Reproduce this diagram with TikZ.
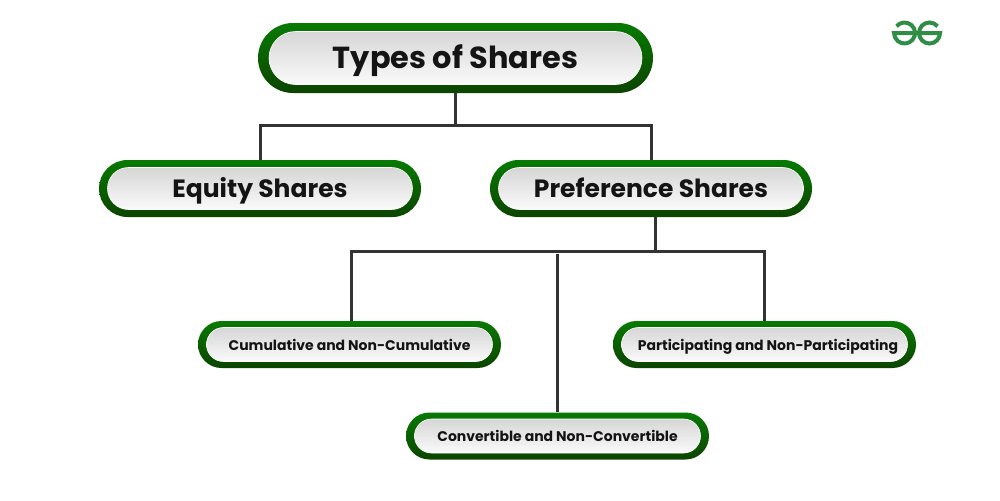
\documentclass[tikz,border=0pt]{standalone}
\usepackage{fontspec}
\setmainfont{Poppins}
\usepackage{xcolor}
\usetikzlibrary{shapes.misc}
\definecolor{ringtop}{HTML}{087A02}
\definecolor{ringbot}{HTML}{0C4400}
\definecolor{logogreen}{HTML}{2F8D46}
\definecolor{linkgray}{HTML}{333333}
\begin{document}
\begin{tikzpicture}[x=0.5pt,y=0.5pt,
  ring/.style={rounded rectangle,top color=ringtop,bottom color=ringbot,inner sep=0pt},
  pill/.style={rounded rectangle,draw=white,line width=0.3pt,top color=black!16,bottom color=black!2,inner sep=0pt,text=black!92,text depth=0pt},
  bigring/.style={ring,minimum width=197.5pt,minimum height=35pt},
  bigpill/.style={pill,minimum width=186.5pt,minimum height=26.5pt,text height=10.6pt,font=\bfseries\fontsize{15.2}{18}\selectfont},
  midring/.style={ring,minimum width=161pt,minimum height=28.5pt},
  midpill/.style={pill,minimum width=152.5pt,minimum height=21pt,text height=8.75pt,font=\bfseries\fontsize{12.5}{14}\selectfont},
  lowring/.style={ring,minimum width=151.5pt,minimum height=23.5pt},
  lowpill/.style={pill,minimum width=143pt,minimum height=17pt,text height=5.9pt,font=\bfseries\fontsize{7}{9}\selectfont},
  link/.style={draw=linkgray,line width=1.5pt},
  logoline/.style={draw=logogreen,line width=2pt}]
\useasboundingbox (0,0) rectangle (1000,500);
% junctions of the two trees
\coordinate (topbus) at (455.5,375);
\coordinate (lowbus) at (655,249);
\coordinate (midgap) at (557.5,246);
\coordinate (cumdrop) at (351,249);
% boxes
\node[bigring] (types) at (455.5,442) {};
\node[midring] (equity) at (260,311.5) {};
\node[midring] (preference) at (651,311.5) {};
\node[lowring] (cumulative) at (349.5,155.5) {};
\node[lowring] (participating) at (764.5,155.5) {};
\node[lowring] (convertible) at (557.5,64) {};
% links
\draw[link] (types.south)--(topbus);
\draw[link] (topbus)-|(equity.north);
\draw[link] (topbus)-|(preference.north);
\draw[link] (lowbus|-preference.south)--(lowbus);
\draw[link] (lowbus)--(cumdrop)--(cumdrop|-cumulative.north);
\draw[link] (lowbus)-|(participating.north);
\draw[link] (midgap)--(convertible.north);
% inner pills with the texts
\node[bigpill] (typestext) at (types) {Types of Shares};
\node[midpill] (equitytext) at (equity) {Equity Shares};
\node[midpill] (preferencetext) at (preference) {Preference Shares};
\node[lowpill] (cumulativetext) at (cumulative) {Cumulative and Non-Cumulative};
\node[lowpill] (participatingtext) at (participating) {\hspace{3.5pt}Participating and Non-Participating};
\node[lowpill] (convertibletext) at (convertible) {Convertible and Non-Convertible};
% logo
\draw[logoline] (896.5,473.75) arc[start angle=140,end angle=-180,radius=10.5]--(940,467) arc[start angle=0,end angle=-320,radius=10.5];
\end{tikzpicture}
\end{document}
